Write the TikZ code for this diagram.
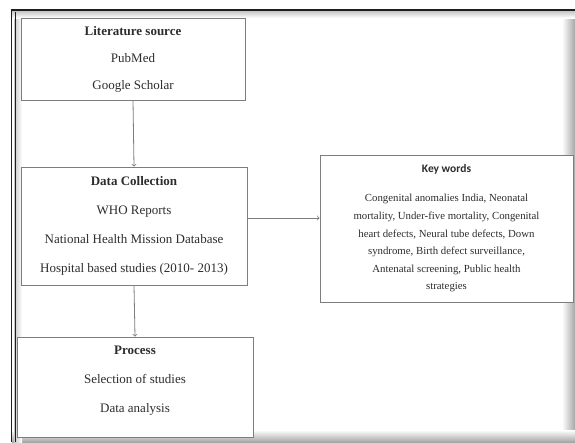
\documentclass[tikz,border=0pt]{standalone}
\usepackage{fontspec}
\setmainfont{Liberation Serif}
\newfontfamily\kwfont{Carlito}
\usepackage{tikz}
\usetikzlibrary{arrows, positioning}
\definecolor{boxline}{RGB}{125,125,125}
\definecolor{inktext}{RGB}{45,45,45}
\definecolor{framedark}{RGB}{30,30,30}

\begin{document}
\begin{tikzpicture}[x=1pt, y=-1pt,
    box/.style={draw=boxline, line width=0.8pt, fill=white, align=center,
                inner sep=0pt, text=inktext, font=\fontsize{13}{15}\selectfont},
    flow/.style={draw=boxline, line width=0.8pt, ->}]
    \useasboundingbox (0,0) rectangle (575,442);

    % Outer frame (screenshot border with shadow)
    \fill[white] (12,10) rectangle (575,442);
    \shade[left color=white, right color=gray!70] (562,10) rectangle (575,442);
    \shade[top color=white, bottom color=gray!70] (12,430) rectangle (575,442);
    \shade[left color=gray!45, right color=white] (14,10) rectangle (22,442);
    \shade[top color=gray!45, bottom color=white] (12,11) rectangle (575,18);
    \draw[framedark, line width=1.6pt] (11.5,442) -- (11.5,10) -- (575,10);
    \draw[framedark, line width=1.4pt] (15.5,442) -- (15.5,12);

    % Literature source
    \node[box, minimum width=224pt, minimum height=82pt] (lit) at (133,59)
        {\textbf{Literature source}\\[12pt] PubMed\\[12pt] Google Scholar};

    % Data collection
    \node[box, minimum width=226pt, minimum height=118pt] (data) at (134,226)
        {\textbf{Data Collection}\\[14pt] WHO Reports\\[14pt] National Health Mission Database\\[14pt]
         Hospital based studies (2010- 2013)};

    % Key words
    \node[box, minimum width=253pt, minimum height=147pt, font=\fontsize{10.8}{13}\selectfont] (kw) at (446.5,228.5)
        {{\kwfont\bfseries\fontsize{11.5}{13}\selectfont Key words}\\[16pt]
         Congenital anomalies India, Neonatal\\[4.6pt]
         mortality, Under-five mortality, Congenital\\[4.6pt]
         heart defects, Neural tube defects, Down\\[4.6pt]
         syndrome, Birth defect surveillance,\\[4.6pt]
         Antenatal screening, Public health\\[4.6pt]
         strategies};

    % Process
    \node[box, minimum width=236pt, minimum height=100pt] (proc) at (135,387)
        {\textbf{Process}\\[14pt] Selection of studies\\[14pt] Data analysis\\[0pt]\mbox{}};

    % Connectors
    \draw[flow] (lit.south) -- (data.north);
    \draw[flow] (data.east |- 0,218) -- (kw.west |- 0,218);
    \draw[flow] (data.south) -- (proc.north);
\end{tikzpicture}
\end{document}
